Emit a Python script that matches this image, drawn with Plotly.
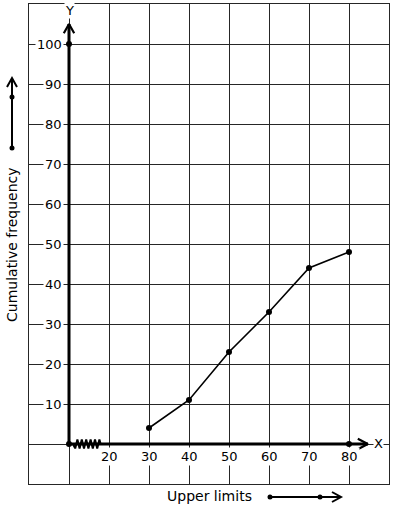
import plotly.graph_objects as go

# Data
upper_limits = [30, 40, 50, 60, 70, 80]
cum_freq = [4, 11, 23, 33, 44, 48]
x_tick_vals = [20, 30, 40, 50, 60, 70, 80]
y_tick_vals = [10, 20, 30, 40, 50, 60, 70, 80, 90, 100]
origin = (10, 0)
extra_dots_x = [10, 10, 80]
extra_dots_y = [0, 100, 0]

X_RANGE = [0, 90]
Y_RANGE = [-10, 110]
FONT = "DejaVu Sans"
GRID = "#262626"

fig = go.Figure()

# axis lines (thick)
x_end = 84.7
y_end = 105
fig.add_trace(go.Scatter(x=[origin[0], x_end], y=[0, 0], mode="lines",
                         line=dict(color="black", width=3), hoverinfo="skip"))
fig.add_trace(go.Scatter(x=[10, 10], y=[0, y_end], mode="lines",
                         line=dict(color="black", width=3), hoverinfo="skip"))
# arrow heads
fig.add_trace(go.Scatter(x=[x_end - 2.5, x_end, x_end - 2.5], y=[1.3, 0, -1.3], mode="lines",
                         line=dict(color="black", width=2.2), hoverinfo="skip"))
fig.add_trace(go.Scatter(x=[8.7, 10, 11.3], y=[y_end - 2.3, y_end, y_end - 2.3], mode="lines",
                         line=dict(color="black", width=2.2), hoverinfo="skip"))

# zigzag (axis break)
zx = [11.0]
zy = [0.0]
n = 12
for i in range(1, n + 1):
    zx.append(11.0 + i * 0.55)
    zy.append(-1.1 if i % 2 else 1.1)
zx.append(zx[-1] + 0.3)
zy.append(0)
fig.add_trace(go.Scatter(x=zx, y=zy, mode="lines",
                         line=dict(color="black", width=2), hoverinfo="skip"))
# ogive
fig.add_trace(go.Scatter(x=upper_limits, y=cum_freq, mode="lines+markers",
                         line=dict(color="black", width=1.6),
                         marker=dict(color="black", size=6), hoverinfo="skip"))
fig.add_trace(go.Scatter(x=extra_dots_x, y=extra_dots_y, mode="markers",
                         marker=dict(color="black", size=6), hoverinfo="skip"))

annotations = []
for v in y_tick_vals:
    annotations.append(dict(x=8.7, y=v, xref="x", yref="y", text=str(v), showarrow=False,
                            xanchor="right", yanchor="middle", bgcolor="white", borderpad=1,
                            font=dict(family=FONT, size=13, color="black")))
for v in x_tick_vals:
    annotations.append(dict(x=v, y=-3.0, xref="x", yref="y", text=str(v), showarrow=False,
                            xanchor="center", yanchor="middle", bgcolor="white", borderpad=1,
                            font=dict(family=FONT, size=13, color="black")))
annotations.append(dict(x=87.3, y=0.2, xref="x", yref="y", text="X", showarrow=False,
                        xanchor="center", yanchor="middle", bgcolor="white", borderpad=0,
                        font=dict(family=FONT, size=13, color="black")))
annotations.append(dict(x=10.2, y=108.3, xref="x", yref="y", text="Y", showarrow=False,
                        xanchor="center", yanchor="middle", bgcolor="white", borderpad=0,
                        font=dict(family=FONT, size=13, color="black")))
# axis titles
annotations.append(dict(x=(209 - 29) / 360, y=(484 - 496) / 480, xref="paper", yref="paper",
                        text="Upper limits", showarrow=False, xanchor="center", yanchor="middle",
                        font=dict(family=FONT, size=14, color="black")))
annotations.append(dict(x=(12 - 29) / 360, y=(484 - 245) / 480, xref="paper", yref="paper",
                        text="Cumulative frequency", showarrow=False, textangle=-90,
                        xanchor="center", yanchor="middle",
                        font=dict(family=FONT, size=14, color="black")))


def px(p):
    return (p - 29) / 360


def py(p):
    return (484 - p) / 480


shapes = []
# bottom arrow
shapes.append(dict(type="line", xref="paper", yref="paper", x0=px(270), y0=py(497), x1=px(340), y1=py(497),
                   line=dict(color="black", width=2)))
shapes.append(dict(type="path", xref="paper", yref="paper",
                   path=f"M {px(332)},{py(492)} L {px(341)},{py(497)} L {px(332)},{py(502)}",
                   line=dict(color="black", width=2)))
for cx in (270, 320):
    shapes.append(dict(type="circle", xref="paper", yref="paper", x0=px(cx - 2.5), x1=px(cx + 2.5),
                       y0=py(497 + 2.5), y1=py(497 - 2.5), fillcolor="black", line=dict(color="black", width=0)))
# left arrow
shapes.append(dict(type="line", xref="paper", yref="paper", x0=px(12), y0=py(148), x1=px(12), y1=py(78),
                   line=dict(color="black", width=2)))
shapes.append(dict(type="path", xref="paper", yref="paper",
                   path=f"M {px(7)},{py(87)} L {px(12)},{py(78)} L {px(17)},{py(87)}",
                   line=dict(color="black", width=2)))
for cy in (148, 97):
    shapes.append(dict(type="circle", xref="paper", yref="paper", x0=px(12 - 2.5), x1=px(12 + 2.5),
                       y0=py(cy + 2.5), y1=py(cy - 2.5), fillcolor="black", line=dict(color="black", width=0)))

fig.update_layout(
    width=394, height=510,
    margin=dict(l=29, r=5, t=4, b=26),
    paper_bgcolor="white", plot_bgcolor="white",
    showlegend=False,
    annotations=annotations,
    shapes=shapes,
    xaxis=dict(range=X_RANGE, tick0=0, dtick=10, showgrid=True, gridcolor=GRID, gridwidth=1,
               showticklabels=False, zeroline=False, showline=True, linecolor=GRID, linewidth=1,
               mirror=True, ticks="", fixedrange=True),
    yaxis=dict(range=Y_RANGE, tick0=0, dtick=10, showgrid=True, gridcolor=GRID, gridwidth=1,
               showticklabels=False, zeroline=False, showline=True, linecolor=GRID, linewidth=1,
               mirror=True, ticks="", fixedrange=True),
)

fig.write_html(
    "out.html",
    config={"displayModeBar": False, "responsive": False},
    post_script="document.body.style.margin='0';document.body.style.overflow='hidden';",
)
